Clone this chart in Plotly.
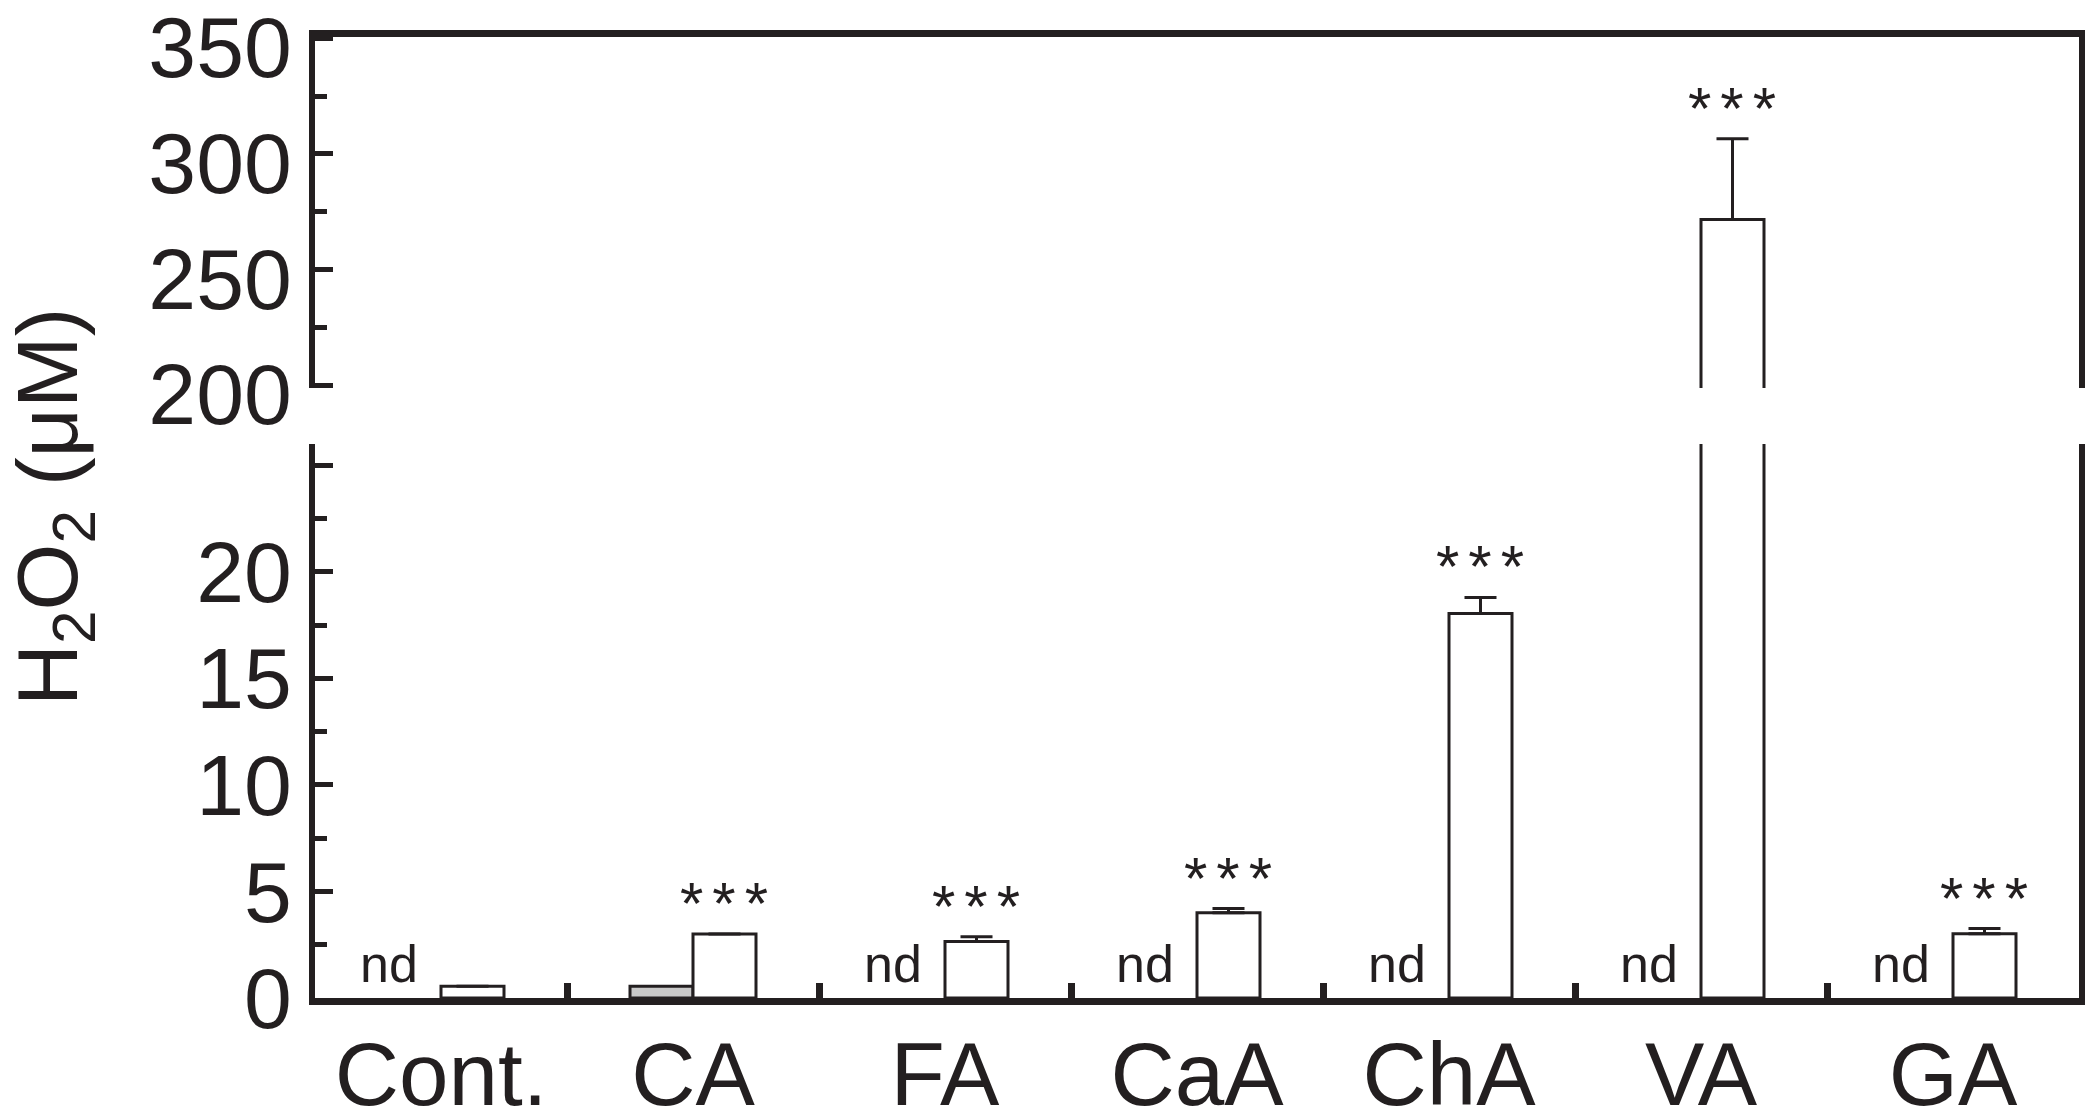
import plotly.graph_objects as go

# ---------------- data ----------------
categories = ["Cont.", "CA", "FA", "CaA", "ChA", "VA", "GA"]
gray_values = [None, 0.55, None, None, None, None, None]      # None = not detected (nd)
white_values = [0.55, 3.0, 2.65, 4.0, 18.05, 271.6, 3.02]
white_err = [0, 0, 0.23, 0.2, 0.75, 35.0, 0.24]
significance = ["", "***", "***", "***", "***", "***", "***"]

lower_tickvals = [0, 5, 10, 15, 20, 25]
lower_ticktext = ["0", "5", "10", "15", "20", " "]
lower_minor = [2.5, 7.5, 12.5, 17.5, 22.5]
upper_tickvals = [200, 250, 300, 350]
upper_ticktext = ["200", "250", "300", "350"]
upper_minor = [225, 275, 325]

lower_range = [0, 26]
upper_range = [198.7, 350.6]
y_title = "H<sub>2</sub>O<sub>2</sub> (μM)"

# ---------------- style ----------------
W, H = 2085, 1115
INK = "#231f20"
GRAY = "#c9c9c9"
FONT = "Liberation Sans, Arial, sans-serif"


def fx(p):
    return p / W


def fy(p):
    return 1 - p / H


x_domain = [fx(315), fx(2079)]
lower_domain = [fy(998), fy(444)]
upper_domain = [fy(388), fy(37)]

fig = go.Figure()
for xa, ya in [("x", "y"), ("x2", "y2")]:
    fig.add_trace(go.Bar(
        x=categories, y=gray_values, xaxis=xa, yaxis=ya,
        marker=dict(color=GRAY, line=dict(color=INK, width=3)),
        showlegend=False, hoverinfo="skip",
    ))
    fig.add_trace(go.Bar(
        x=categories, y=white_values, xaxis=xa, yaxis=ya,
        marker=dict(color="white", line=dict(color=INK, width=3)),
        error_y=dict(type="data", array=white_err, arrayminus=[0] * len(white_err),
                     symmetric=False, width=16, thickness=3, color=INK),
        showlegend=False, hoverinfo="skip",
    ))

common_y = dict(
    showline=True, linewidth=6, linecolor=INK, mirror=True,
    ticks="inside", ticklen=18, tickwidth=5, tickcolor=INK,
    showgrid=False, zeroline=False, automargin=False,
    tickfont=dict(family=FONT, size=86, color=INK),
    tickmode="array", ticklabeloverflow="allow",
)

fig.update_layout(
    template="none",
    width=W, height=H,
    margin=dict(l=0, r=0, t=0, b=0, pad=0, autoexpand=False),
    paper_bgcolor="white", plot_bgcolor="white",
    barmode="group", bargap=0.5, bargroupgap=0,
    font=dict(family=FONT, color=INK),
    xaxis=dict(
        domain=x_domain, anchor="y", type="category", range=[-0.5, 6.5],
        showline=True, linewidth=7, linecolor=INK,
        ticks="inside", tickson="boundaries", ticklen=15, tickwidth=7, tickcolor=INK,
        tickfont=dict(family=FONT, size=89, color=INK),
        ticklabeloverflow="allow", ticklabelstandoff=-7,
        showgrid=False, zeroline=False, automargin=False,
    ),
    xaxis2=dict(
        domain=x_domain, anchor="y2", matches="x", side="top",
        showline=True, linewidth=7, linecolor=INK,
        ticks="", showticklabels=False, showgrid=False, zeroline=False,
        automargin=False,
    ),
    yaxis=dict(
        domain=lower_domain, anchor="x", range=lower_range,
        tickvals=lower_tickvals, ticktext=lower_ticktext,
        minor=dict(tickmode="array", tickvals=lower_minor, ticks="inside",
                   ticklen=12, tickwidth=5, tickcolor=INK, showgrid=False),
        **common_y,
    ),
    yaxis2=dict(
        domain=upper_domain, anchor="x2", range=upper_range,
        tickvals=upper_tickvals, ticktext=upper_ticktext, ticklabelshift=9,
        minor=dict(tickmode="array", tickvals=upper_minor, ticks="inside",
                   ticklen=12, tickwidth=5, tickcolor=INK, showgrid=False),
        **common_y,
    ),
)

annotations = []
# significance stars above the white bars
for i, s in enumerate(significance):
    if not s:
        continue
    top = white_values[i] + white_err[i]
    yref = "y2" if top > lower_range[1] else "y"
    annotations.append(dict(
        x=i + 0.125, y=top, xref="x", yref=yref,
        text=f'<span style="letter-spacing:9px">{s}</span>', showarrow=False,
        xanchor="center", yanchor="bottom", yshift=-5, xshift=4,
        font=dict(family=FONT, size=60, color=INK),
    ))
# "nd" labels where the gray series was not detected
for i, v in enumerate(gray_values):
    if v is None:
        annotations.append(dict(
            x=i - 0.205, y=0, xref="x", yref="y",
            text="nd", showarrow=False,
            xanchor="center", yanchor="bottom", yshift=3,
            font=dict(family=FONT, size=52, color=INK),
        ))
# y-axis title
annotations.append(dict(
    x=fx(54), y=fy(507), xref="paper", yref="paper",
    text=y_title, showarrow=False, textangle=-90,
    xanchor="center", yanchor="middle",
    font=dict(family=FONT, size=86, color=INK),
))
fig.update_layout(annotations=annotations)

fig.write_html("out.html")
